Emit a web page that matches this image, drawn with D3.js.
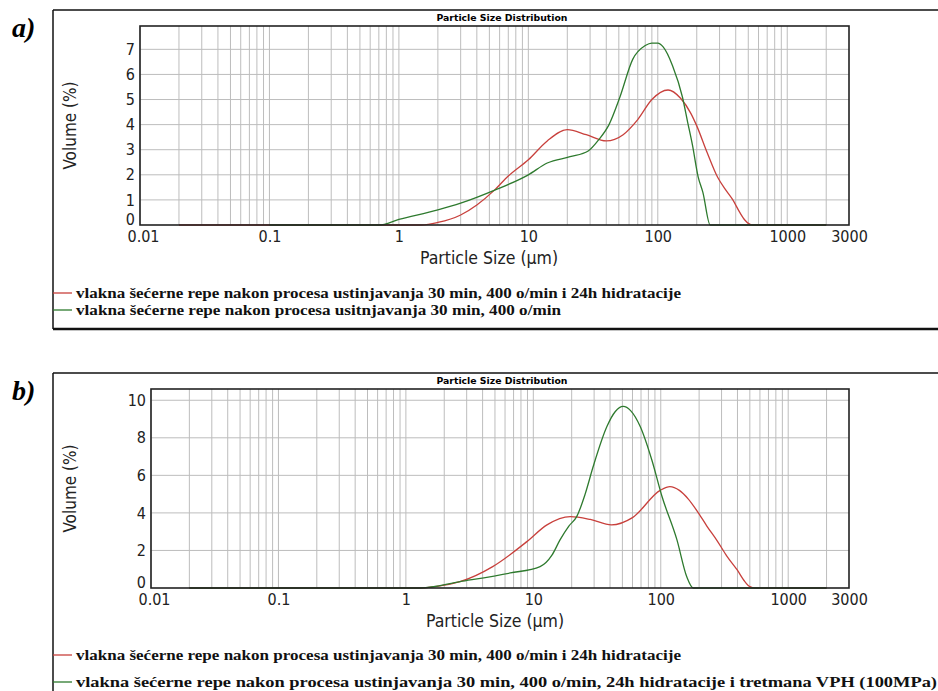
<!DOCTYPE html>
<html><head><meta charset="utf-8">
<script src="https://cdn.jsdelivr.net/npm/d3@7"></script>
<style>body{margin:0;background:#fff}</style>
</head><body>
<svg id="c" width="938" height="691"></svg>
<script>
// ---- data ----
const xTickLabels = ["0.01","0.1","1","10","100","1000","3000"];
const xTickValues = [0.01,0.1,1,10,100,1000,3000];
const yTicksA = [0,1,2,3,4,5,6,7];
const yTicksB = [0,2,4,6,8,10];

const redA_size = [0.02,1.5,2,3,4,5.5,7,10,14,20,28,40,54,70,90,120,150,180,200,240,290,340,380,430,470,540,2000];
const redA_val  = [0,0,0.1,0.4,0.8,1.4,1.95,2.6,3.35,3.8,3.6,3.35,3.6,4.2,5.0,5.38,5.05,4.45,3.95,2.9,1.9,1.35,1.0,0.5,0.2,0,0];
const greenA_size = [0.1,0.7,1,2,3,5.5,10,14,21,29,35,42,51,64,80,90,100,110,130,155,170,185,205,223,254,2000];
const greenA_val  = [0,0,0.22,0.6,0.87,1.39,2.0,2.47,2.72,2.95,3.4,4.0,5.1,6.6,7.15,7.25,7.25,7.1,6.35,5.1,4.1,3.2,1.92,1.3,0,0];

const redB_size = [0.02,1.3,2,2.66,4.8,8.9,12.8,19.5,28,41,60,99,118,140,164,193,230,278,330,398,450,500,550,2000];
const redB_val  = [0,0,0.15,0.34,1.14,2.47,3.36,3.8,3.65,3.36,3.75,5.2,5.4,5.2,4.75,4.1,3.3,2.5,1.7,0.96,0.4,0.07,0,0];
const greenB_size = [0.02,1.3,2.66,6.6,11.3,14,16.2,19,21.9,25.5,29.5,37.8,44,50.7,58,69,85,102,134,160,180,2000];
const greenB_val  = [0,0,0.34,0.8,1.14,1.75,2.56,3.3,3.8,5.0,6.47,8.6,9.4,9.67,9.45,8.6,6.83,4.9,2.56,0.6,0,0];

const legendA = ["vlakna šećerne repe nakon procesa ustinjavanja 30 min, 400 o/min i 24h hidratacije",
                 "vlakna šećerne repe nakon procesa usitnjavanja 30 min, 400 o/min"];
const legendB = ["vlakna šećerne repe nakon procesa ustinjavanja 30 min, 400 o/min i 24h hidratacije",
                 "vlakna šećerne repe nakon procesa ustinjavanja 30 min, 400 o/min, 24h hidratacije i tretmana VPH (100MPa)"];

const RED = "#c8403c", GREEN = "#2e7a2e";
const svg = d3.select("#c");
const sans = "'DejaVu Sans Condensed','DejaVu Sans',sans-serif";

function panel(o){
  const g = svg.append("g");
  // outer frame
  g.append("line").attr("x1",o.fx).attr("x2",938).attr("y1",o.fy).attr("y2",o.fy).attr("stroke","#111").attr("stroke-width",1.5);
  g.append("line").attr("x1",o.fx).attr("x2",o.fx).attr("y1",o.fy).attr("y2",o.fb).attr("stroke","#111").attr("stroke-width",1.5);
  if (o.fb < 691) g.append("line").attr("x1",o.fx).attr("x2",938).attr("y1",o.fb).attr("y2",o.fb).attr("stroke","#111").attr("stroke-width",2.5);
  // panel letter
  g.append("text").attr("x",12).attr("y",o.fy+27).attr("font-family","'Liberation Serif',serif")
    .attr("font-weight","bold").attr("font-style","italic").attr("font-size",28).text(o.letter);
  // title
  g.append("text").attr("x",502).attr("y",o.fy+11).attr("text-anchor","middle").attr("font-family",sans)
    .attr("font-weight","bold").attr("font-size",9.5).attr("textLength",131).attr("lengthAdjust","spacingAndGlyphs")
    .text("Particle Size Distribution");

  const x = d3.scaleLog().domain([0.01,3000]).range([o.l,o.r]);
  const y = d3.scaleLinear().domain([0,o.ymax]).range([o.b,o.t]);

  // grid
  const vg = [];
  for (let e=-2;e<=3;e++) for (let k=1;k<=9;k++){ const v=k*Math.pow(10,e); if (v<3000) vg.push(v); }
  g.append("g").selectAll("line").data(vg).join("line")
    .attr("x1",d=>x(d)).attr("x2",d=>x(d)).attr("y1",o.t).attr("y2",o.b)
    .attr("stroke","#bdbdbd").attr("stroke-width",1);
  g.append("g").selectAll("line").data(o.yticks.filter(d=>d>0)).join("line")
    .attr("x1",o.l).attr("x2",o.r).attr("y1",d=>y(d)).attr("y2",d=>y(d))
    .attr("stroke","#bdbdbd").attr("stroke-width",1);

  // curves
  const line = d3.line().x(d=>x(d[0])).y(d=>y(d[1])).curve(d3.curveMonotoneX);
  o.series.forEach(s=>{
    g.append("path").datum(d3.zip(s.size,s.val)).attr("d",line)
      .attr("fill","none").attr("stroke",s.color).attr("stroke-width",1.3);
  });

  // plot border
  g.append("rect").attr("x",o.l).attr("y",o.t).attr("width",o.r-o.l).attr("height",o.b-o.t)
    .attr("fill","none").attr("stroke","#222").attr("stroke-width",1.6);

  // axes (labels only, via d3 axes)
  const xa = d3.axisBottom(x).tickValues(xTickValues).tickFormat((d,i)=>xTickLabels[i]).tickSize(0).tickPadding(6);
  const gx = g.append("g").attr("transform",`translate(0,${o.b})`).call(xa);
  gx.select(".domain").remove();
  gx.selectAll("text").attr("font-family",sans).attr("font-size",16).attr("fill","#222");
  gx.selectAll(".tick").filter(d=>d===0.01).select("text").attr("dx",3);
  const ya = d3.axisLeft(y).tickValues(o.yticks).tickSize(0).tickPadding(5);
  const gy = g.append("g").attr("transform",`translate(${o.l},0)`).call(ya);
  gy.select(".domain").remove();
  gy.selectAll("text").attr("font-family",sans).attr("font-size",16).attr("fill","#222");
  gy.selectAll(".tick").filter(d=>d===0).select("text").attr("dy","-0.05em");

  // axis titles
  g.append("text").attr("transform",`translate(${o.ylx},${(o.t+o.b)/2}) rotate(-90)`).attr("text-anchor","middle")
    .attr("font-family",sans).attr("font-size",17).attr("fill","#222").text("Volume (%)");
  g.append("text").attr("x",o.xlx).attr("y",o.b+39).attr("text-anchor","middle")
    .attr("font-family",sans).attr("font-size",17.5).attr("fill","#222").text("Particle Size (µm)");

  // legend
  o.legend.forEach((t,i)=>{
    const yy = o.legY[i];
    g.append("line").attr("x1",o.fx).attr("x2",72).attr("y1",yy).attr("y2",yy)
      .attr("stroke",o.series[i].color).attr("stroke-width",1.3);
    g.append("text").attr("x",76).attr("y",yy+5).attr("font-family","'Liberation Serif',serif")
      .attr("font-weight","bold").attr("font-size",15.5).attr("fill","#111")
      .attr("textLength",o.legW[i]).attr("lengthAdjust","spacingAndGlyphs").text(t);
  });
}

panel({letter:"a)", fx:53, fy:10, fb:329, l:140, r:849, t:26, b:225, ymax:7.93, yticks:yTicksA,
  ylx:76, xlx:489, legend:legendA, legY:[293,310], legW:[605,485],
  series:[{size:redA_size,val:redA_val,color:RED},{size:greenA_size,val:greenA_val,color:GREEN}]});
panel({letter:"b)", fx:53, fy:373, fb:800, l:151, r:849, t:389, b:588, ymax:10.6, yticks:yTicksB,
  ylx:76, xlx:495, legend:legendB, legY:[655,682], legW:[605,861],
  series:[{size:redB_size,val:redB_val,color:RED},{size:greenB_size,val:greenB_val,color:GREEN}]});
</script>
</body></html>
